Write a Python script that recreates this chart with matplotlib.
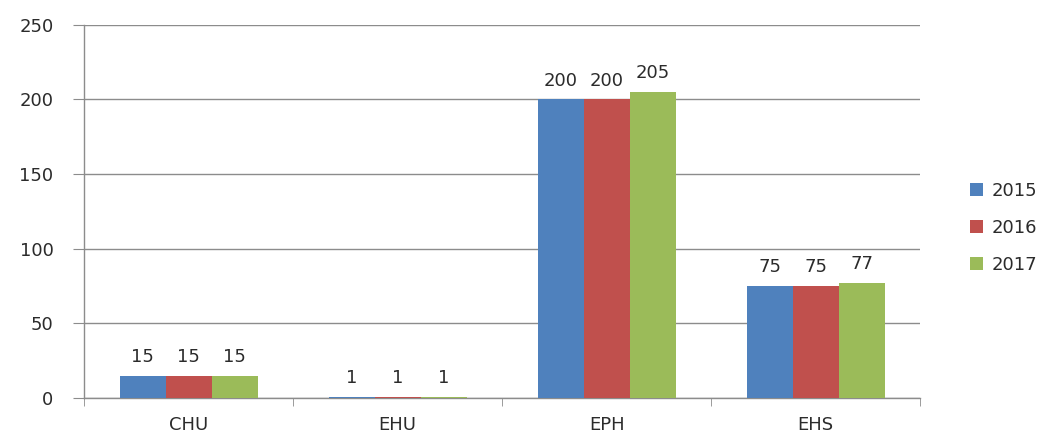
import matplotlib
matplotlib.use("Agg")
import matplotlib.pyplot as plt
import numpy as np

categories = ["CHU", "EHU", "EPH", "EHS"]
years = ["2015", "2016", "2017"]
values_2015 = [15, 1, 200, 75]
values_2016 = [15, 1, 200, 75]
values_2017 = [15, 1, 205, 77]
series = [values_2015, values_2016, values_2017]
colors = ["#4F81BD", "#C0504D", "#9BBB59"]

plt.rcParams["font.family"] = ["DejaVu Sans"]
text_color = "#2b2b2b"
fs = 13

fig = plt.figure(figsize=(10.57, 4.36), dpi=100)
ax = fig.add_axes([0.0795, 0.087, 0.791, 0.856])

x = np.arange(len(categories))
width = 0.22
for i, (vals, col, yr) in enumerate(zip(series, colors, years)):
    pos = x + (i - 1) * width
    bars = ax.bar(pos, vals, width=width, color=col, label=yr, zorder=3)
    for b, v in zip(bars, vals):
        ax.annotate(str(v), (b.get_x() + b.get_width() / 2, v),
                    xytext=(0, 7), textcoords="offset points",
                    ha="center", va="bottom", fontsize=fs, color=text_color)

ax.set_xlim(-0.5, len(categories) - 0.5)
ax.set_ylim(0, 250)
ax.set_yticks(np.arange(0, 251, 50))
ax.yaxis.grid(True, color="#8c8c8c", linewidth=1.0, zorder=0)
ax.set_axisbelow(True)

ax.set_xticks(x)
ax.set_xticklabels(categories)
ax.set_xticks(np.arange(-0.5, len(categories), 1), minor=True)
ax.tick_params(axis="x", which="major", length=0, pad=13, labelsize=fs, labelcolor=text_color)
ax.tick_params(axis="x", which="minor", length=6, direction="out", color="#8c8c8c")
ax.tick_params(axis="y", length=8, direction="out", color="#8c8c8c", pad=14,
               labelsize=fs, labelcolor=text_color)

for side in ["top", "right"]:
    ax.spines[side].set_visible(False)
for side in ["left", "bottom"]:
    ax.spines[side].set_color("#8c8c8c")
    ax.spines[side].set_linewidth(1.0)

leg = ax.legend(loc="center left", bbox_to_anchor=(1.04, 0.456), frameon=False,
                fontsize=fs, handlelength=0.75, handleheight=0.75,
                labelspacing=1.05, handletextpad=0.45)
for t in leg.get_texts():
    t.set_color(text_color)

fig.savefig("out.png", dpi=100)
